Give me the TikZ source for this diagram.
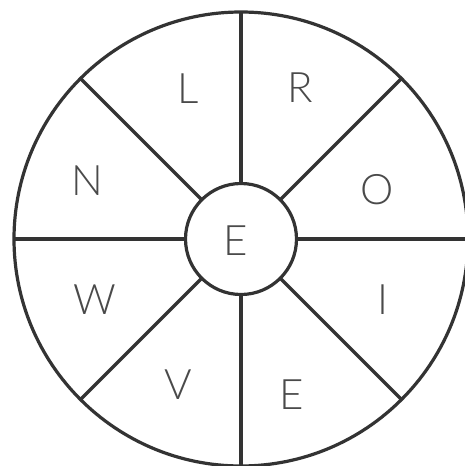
\documentclass[tikz,border=0pt]{standalone}
\usepackage{fontspec}
\newfontfamily\handfont{Lato Light}
\definecolor{linegray}{HTML}{333333}
\definecolor{lettergray}{HTML}{4A4A4A}
\tikzset{
  wheel/.style={circle, draw=linegray, line width=3.2pt, outer sep=0pt, inner sep=0pt},
  spoke/.style={draw=linegray, line width=3.2pt},
  letter/.style={text=lettergray, font=\handfont\fontsize{42}{42}\selectfont, inner sep=0pt}
}
\begin{document}
\begin{tikzpicture}[x=1pt,y=-1pt]
\useasboundingbox (0,0) rectangle (465,466);
\clip (0,0) rectangle (465,466);
\fill[white] (0,0) rectangle (465,466);
\node[wheel, minimum size=454pt] (outer) at (241,239) {};
\node[wheel, minimum size=111pt] (hub) at (241,239) {};
\foreach \a in {0,45,...,315} {
  \draw[spoke] (hub.\a) -- (outer.\a);
}
\node[letter] (hubE) at (236,241) {E};
\node[letter] (L) at (188,89) {L};
\node[letter] (R) at (300,88) {R};
\node[letter] (N) at (87,181) {N};
\node[letter] (O) at (377,190) {O};
\node[letter] (W) at (95,300) {W};
\node[letter] (I) at (383,300) {I};
\node[letter] (V) at (178,385) {V};
\node[letter] (E2) at (292,395) {E};
\end{tikzpicture}
\end{document}
